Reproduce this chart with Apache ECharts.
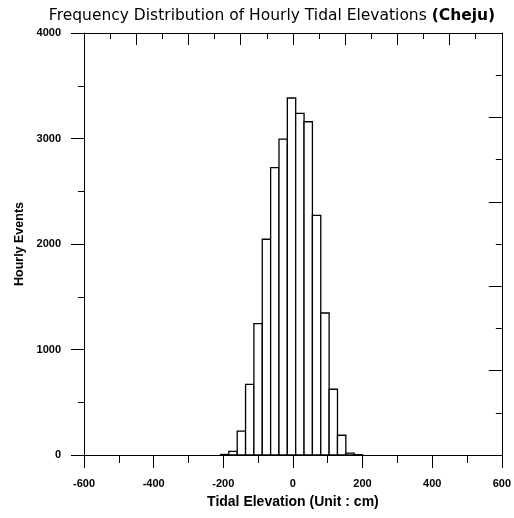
<!DOCTYPE html>
<html><head><meta charset="utf-8">
<script src="https://cdn.jsdelivr.net/npm/echarts@6/dist/echarts.min.js"></script>
<style>html,body{margin:0;padding:0;background:#fff}#c{width:514px;height:518px}</style>
</head><body><div id="c"></div>
<script>
// Histogram bins (cm) and counts
const binLeftEdges = [-208, -184, -160, -136, -112, -88, -64, -40, -16, 8, 32, 56, 80, 104, 128, 152, 176];
const binWidth = 24;
const counts = [5, 35, 227, 670, 1245, 2045, 2723, 2995, 3384, 3239, 3159, 2272, 1346, 623, 187, 18, 3];
const xTickLabels = ['-600', '-400', '-200', '0', '200', '400', '600'];
const yTickLabels = ['0', '1000', '2000', '3000', '4000'];
const titleMain = 'Frequency Distribution of Hourly Tidal Elevations ';
const titleBold = '(Cheju)';
const xName = 'Tidal Elevation (Unit : cm)';
const yName = 'Hourly Events';

const chart = echarts.init(document.getElementById('c'), null, {renderer: 'canvas'});
const FF = '"Liberation Sans", Arial, sans-serif';
const black = '#000';

function xFmt(v) { const i = xTickLabels.indexOf(String(Math.round(v))); return i >= 0 ? xTickLabels[i] : ''; }
function yFmt(v) { const i = yTickLabels.indexOf(String(Math.round(v))); return i >= 0 ? yTickLabels[i] : ''; }

const data = counts.map((c, i) => [binLeftEdges[i], binLeftEdges[i] + binWidth, c]);

chart.setOption({
  animation: false,
  backgroundColor: '#fff',
  title: {
    text: '{a|' + titleMain + '}{b|' + titleBold + '}',
    left: 267, textAlign: 'center',
    top: 3,
    textStyle: {
      fontWeight: 'normal',
      rich: {
        a: {fontFamily: '"DejaVu Sans", sans-serif', fontSize: 15.5, fontWeight: 'normal', color: '#000'},
        b: {fontFamily: '"DejaVu Sans", sans-serif', fontSize: 15.5, fontWeight: 'bold', color: '#000'}
      }
    }
  },
  grid: {left: 84, right: 10.5, top: 33, bottom: 63, containLabel: false},
  xAxis: [
    {
      type: 'value', position: 'bottom', min: -600, max: 600, interval: 200,
      axisLine: {show: true, onZero: false, lineStyle: {color: black, width: 1}},
      axisTick: {show: true, inside: false, length: 13, lineStyle: {color: black, width: 1}},
      minorTick: {show: true, splitNumber: 2, length: 8, lineStyle: {color: black, width: 1}},
      splitLine: {show: false},
      axisLabel: {margin: 23, fontSize: 11, fontWeight: 'bold', color: black, fontFamily: FF, formatter: xFmt},
      name: xName, nameLocation: 'middle', nameGap: 40,
      nameTextStyle: {fontSize: 14, fontWeight: 'bold', color: black, fontFamily: FF}
    },
    {
      type: 'value', position: 'top', min: -600, max: 600, interval: 150,
      axisLine: {show: true, onZero: false, lineStyle: {color: black, width: 1}},
      axisTick: {show: true, inside: true, length: 12, lineStyle: {color: black, width: 1}},
      minorTick: {show: true, splitNumber: 2, length: 6, lineStyle: {color: black, width: 1}},
      splitLine: {show: false},
      axisLabel: {show: false}
    }
  ],
  yAxis: [
    {
      type: 'value', position: 'left', min: 0, max: 4000, interval: 1000,
      axisLine: {show: true, onZero: false, lineStyle: {color: black, width: 1}},
      axisTick: {show: true, inside: false, length: 13, lineStyle: {color: black, width: 1}},
      minorTick: {show: true, splitNumber: 2, length: 6, lineStyle: {color: black, width: 1}},
      splitLine: {show: false},
      axisLabel: {margin: 23, fontSize: 11, fontWeight: 'bold', color: black, fontFamily: FF, formatter: yFmt},
      name: yName, nameLocation: 'middle', nameGap: 53,
      nameTextStyle: {fontSize: 12.5, fontWeight: 'bold', color: black, fontFamily: FF}
    },
    {
      type: 'value', position: 'right', min: 0, max: 4000, interval: 800,
      axisLine: {show: true, onZero: false, lineStyle: {color: black, width: 1}},
      axisTick: {show: true, inside: true, length: 13, lineStyle: {color: black, width: 1}},
      minorTick: {show: true, splitNumber: 2, length: 6, lineStyle: {color: black, width: 1}},
      splitLine: {show: false},
      axisLabel: {show: false}
    }
  ],
  series: [{
    type: 'custom',
    xAxisIndex: 0, yAxisIndex: 0,
    encode: {x: [0, 1], y: 2},
    data: data,
    renderItem: function (params, api) {
      const x0 = api.value(0), x1 = api.value(1), y = api.value(2);
      const p0 = api.coord([x0, 0]);
      const p1 = api.coord([x1, y]);
      return {
        type: 'rect',
        shape: {x: p0[0], y: p1[1], width: p1[0] - p0[0], height: p0[1] - p1[1]},
        style: {fill: '#fff', stroke: '#000', lineWidth: 1.3}
      };
    }
  }]
});
</script>
</body></html>
